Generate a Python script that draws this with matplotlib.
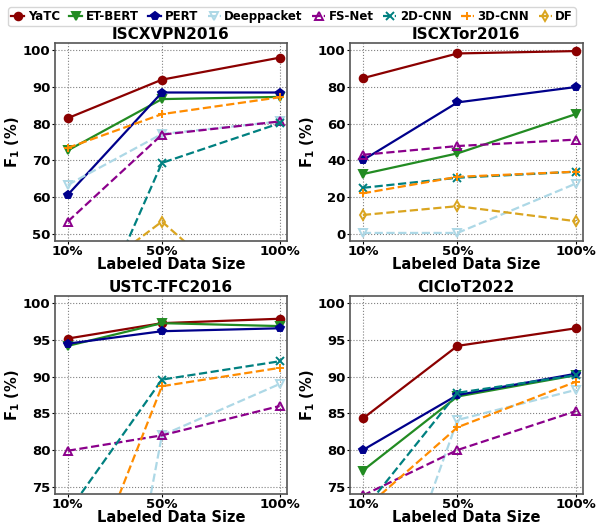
import numpy as np
import matplotlib.pyplot as plt

sizes = [10, 50, 100]
size_labels = ['10%', '50%', '100%']
methods = ['YaTC', 'ET-BERT', 'PERT', 'Deeppacket', 'FS-Net', '2D-CNN', '3D-CNN', 'DF']

# F1 scores (%) per dataset, one list per method (10%, 50%, 100%)
vpn = {
    'YaTC': [81.5, 92.0, 98.0],
    'ET-BERT': [72.7, 86.7, 87.3],
    'PERT': [60.6, 88.5, 88.5],
    'Deeppacket': [63.3, 77.2, 80.6],
    'FS-Net': [53.3, 77.0, 80.6],
    '2D-CNN': [11.0, 69.3, 80.1],
    '3D-CNN': [73.4, 82.6, 87.2],
    'DF': [34.0, 53.3, 25.0],
}
tor = {
    'YaTC': [84.8, 98.3, 99.6],
    'ET-BERT': [32.5, 43.8, 65.2],
    'PERT': [40.1, 71.6, 80.0],
    'Deeppacket': [0.4, 0.4, 27.3],
    'FS-Net': [43.0, 47.8, 51.3],
    '2D-CNN': [25.0, 30.5, 33.8],
    '3D-CNN': [22.0, 31.0, 33.8],
    'DF': [10.2, 15.0, 6.8],
}
ustc = {
    'YaTC': [95.2, 97.3, 97.9],
    'ET-BERT': [94.2, 97.3, 96.9],
    'PERT': [94.5, 96.2, 96.6],
    'Deeppacket': [14.0, 82.0, 89.0],
    'FS-Net': [79.9, 82.0, 86.0],
    '2D-CNN': [71.5, 89.6, 92.1],
    '3D-CNN': [56.0, 88.7, 91.2],
    'DF': [5.0, 8.0, 10.0],
}
ciciot = {
    'YaTC': [84.3, 94.2, 96.6],
    'ET-BERT': [77.2, 87.3, 90.2],
    'PERT': [80.0, 87.5, 90.4],
    'Deeppacket': [47.8, 84.1, 88.2],
    'FS-Net': [73.8, 80.0, 85.3],
    '2D-CNN': [71.7, 87.8, 90.2],
    '3D-CNN': [71.8, 83.1, 89.3],
    'DF': [5.0, 8.0, 10.0],
}

datasets = ['ISCXVPN2016', 'ISCXTor2016', 'USTC-TFC2016', 'CICIoT2022']
results = [vpn, tor, ustc, ciciot]
ylims = [(48, 102), (-4, 104), (74, 101), (74, 101)]
yticks = [[50, 60, 70, 80, 90, 100], [0, 20, 40, 60, 80, 100],
          [75, 80, 85, 90, 95, 100], [75, 80, 85, 90, 95, 100]]

styles = {
    'YaTC': dict(color='#8b0000', ls='-', marker='o', mfc='#8b0000'),
    'ET-BERT': dict(color='#228b22', ls='-', marker='v', mfc='#228b22'),
    'PERT': dict(color='#00008b', ls='-', marker='p', mfc='#00008b'),
    'Deeppacket': dict(color='#add8e6', ls='--', marker='v', mfc='none'),
    'FS-Net': dict(color='#8b008b', ls='--', marker='^', mfc='none'),
    '2D-CNN': dict(color='#008080', ls='--', marker='x', mfc='none'),
    '3D-CNN': dict(color='#ff8c00', ls='--', marker='+', mfc='none'),
    'DF': dict(color='#daa520', ls='--', marker='d', mfc='none'),
}

plt.rcParams['font.weight'] = 'bold'
plt.rcParams['axes.labelweight'] = 'bold'
plt.rcParams['axes.titleweight'] = 'bold'

fig = plt.figure(figsize=(5.96, 5.27), dpi=100)
boxes = [[0.092, 0.5427, 0.389, 0.3757], [0.587, 0.5427, 0.391, 0.3757],
         [0.092, 0.0626, 0.389, 0.3757], [0.587, 0.0626, 0.391, 0.3757]]

for k in range(4):
    ax = fig.add_axes(boxes[k])
    res = results[k]
    for m in methods:
        st = styles[m]
        ax.plot(sizes, res[m], linestyle=st['ls'], color=st['color'], marker=st['marker'],
                markerfacecolor=st['mfc'], markeredgecolor=st['color'], markersize=5.5,
                markeredgewidth=1.4, linewidth=1.6, label=m)
    ax.set_xlim(4.5, 103)
    ax.set_ylim(*ylims[k])
    ax.set_yticks(yticks[k])
    ax.set_xticks(sizes)
    ax.set_xticklabels(size_labels)
    ax.tick_params(labelsize=9.5, length=2, pad=1)
    ax.grid(True, linestyle=':', color='gray', linewidth=0.8)
    for s in ax.spines.values():
        s.set_color('#555555')
        s.set_linewidth(1.2)
    ax.set_title(datasets[k], fontsize=11, pad=3)
    ax.set_xlabel('Labeled Data Size', fontsize=10.5, labelpad=-1)
    ax.set_ylabel('F$_1$ (%)', fontsize=10.5, labelpad=1)
    if k == 0:
        handles, labels = ax.get_legend_handles_labels()

fig.legend(handles, labels, loc='upper left', bbox_to_anchor=(0.004, 0.997), ncol=8,
           fontsize=8.5, handlelength=1.1, handletextpad=0.3, columnspacing=0.8,
           markerscale=1.0, borderpad=0.25, frameon=True)

plt.savefig('out.png', dpi=100)
